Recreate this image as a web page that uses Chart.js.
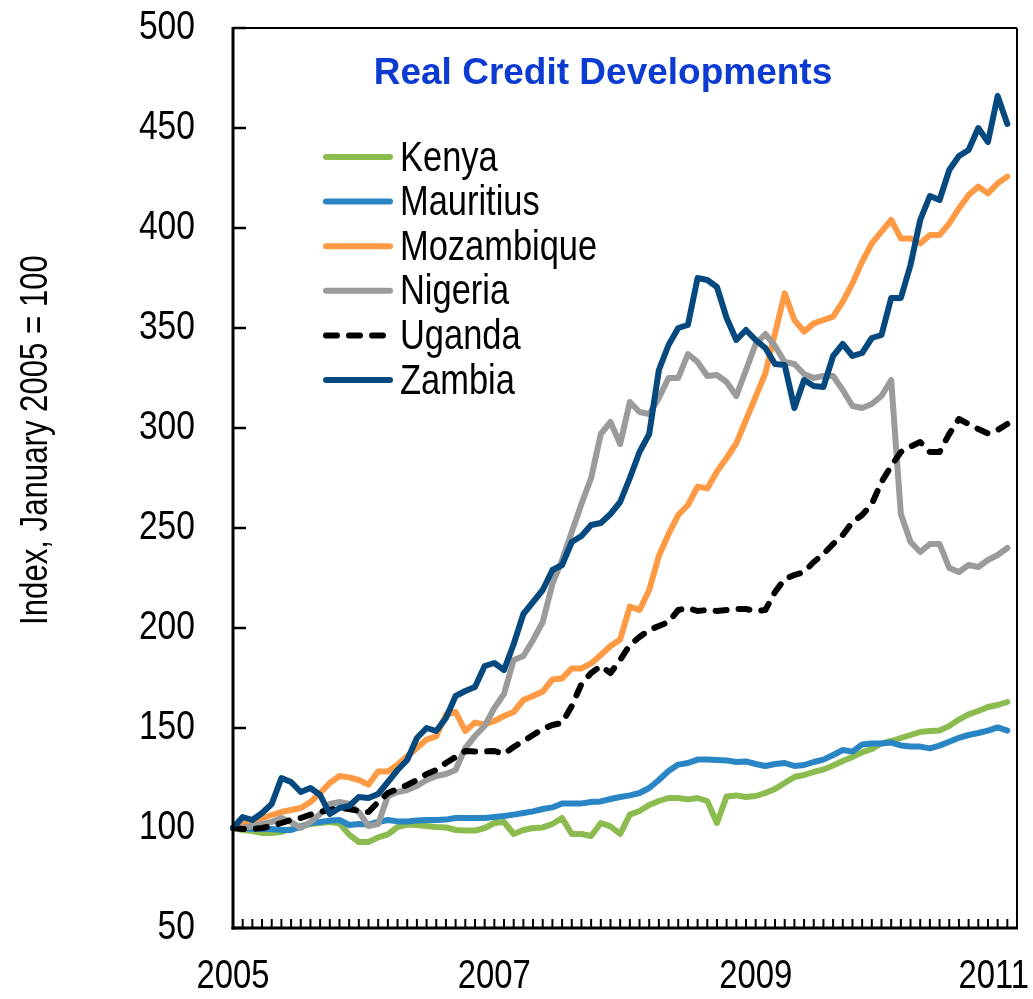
<!DOCTYPE html>
<html>
<head>
<meta charset="utf-8">
<script src="https://cdn.jsdelivr.net/npm/chart.js@4.4.0/dist/chart.umd.min.js"></script>
<style>
  html, body { margin: 0; padding: 0; background: #fff; }
  #chart { display: block; }
</style>
</head>
<body>
<canvas id="chart" width="1033" height="999"></canvas>
<script>
// ---------- DATA (monthly, Jan 2005 onward) ----------
const seriesNames = ["Kenya", "Mauritius", "Mozambique", "Nigeria", "Uganda", "Zambia"];
const seriesColors = ["#8cbb4f", "#2a85c4", "#fe9a43", "#9b9b9b", "#000000", "#05497f"];

const kenya = [100, 99, 98.5, 97.5, 97.5, 98, 99.5, 101, 102, 102.5,
  103, 102.3, 96.7, 93, 93, 95.3, 96.8, 100.5, 101.7, 101.5,
  101, 100.5, 100.3, 99, 98.7, 98.7, 100, 102.5, 103, 97,
  99, 100, 100.3, 102, 105, 97, 97, 96, 102.5, 100.8,
  97, 106.7, 108.5, 111.5, 113.5, 115, 115, 114.3, 115, 113.5,
  102.5, 115.8, 116.3, 115.5, 116, 117.5, 119.5, 122.5, 125.5, 126.5,
  128, 129.3, 131.3, 133.5, 135.5, 137.8, 139.5, 142.3, 143.5, 145,
  146.5, 148, 148.5, 148.8, 151, 154.2, 156.8, 158.5, 160.5, 161.5, 163];

const mauritius = [100, 100, 99.5, 99.5, 99.5, 99, 99, 100.5, 102.5, 103,
  103.7, 104, 101.5, 102, 101.7, 103, 104, 103.3, 103.3, 103.7,
  104, 104, 104.2, 105, 105, 105, 105, 105.5, 106, 106.7,
  107.5, 108.3, 109.5, 110.3, 112.3, 112.2, 112.3, 113, 113.3, 114.5,
  115.5, 116.3, 117.5, 120, 124, 128.5, 131.7, 132.5, 134.2, 134.2,
  134, 133.8, 133, 133.3, 132, 131, 132, 132.5, 131, 131.5,
  133, 134.2, 136.5, 139, 138.2, 141.8, 142.3, 142.3, 142.7, 141.3,
  140.7, 140.7, 139.8, 141.2, 143.1, 145.1, 146.5, 147.5, 148.7, 150.3, 148.7];

const mozambique = [100, 102, 104, 105, 106.5, 108, 109, 110, 113, 117.5,
  122.5, 126, 125.3, 124, 121.7, 128.3, 128.3, 131.7, 135.8, 140,
  144.2, 145.8, 156.7, 158, 148.5, 152.7, 151.8, 153.5, 156, 158,
  164, 166, 168.2, 174.3, 174.8, 179.8, 179.8, 182.3, 186.5, 191,
  194.3, 210.7, 209, 219, 236, 247, 256.5, 261.5, 270.7, 269.8,
  278.2, 285, 292.3, 304, 315.7, 327.3, 347.3, 367.3, 354, 348.2,
  352.3, 354, 355.7, 363.2, 372.3, 383.2, 392.3, 398.2, 404, 394.8,
  394.8, 392.3, 396.5, 396.5, 402.3, 409.8, 416.5, 420.7, 417.3, 422.3, 425.7];

const nigeria = [100, 100, 101, 102, 103, 105, 103, 100, 103, 107,
  112, 113, 112, 108, 101, 102, 116, 118, 119, 121,
  124, 126, 127, 129, 140, 146, 151, 160, 167, 184,
  186, 194, 203, 222, 234, 248, 262, 275, 297, 303,
  292, 313, 308, 307, 315, 325, 325, 337, 333, 326,
  326.5, 323, 316, 329, 342, 347, 341, 333, 332, 327,
  325, 326, 326, 319, 311, 310, 312, 316, 324, 257,
  243, 238, 242, 242, 230, 228, 231.5, 230.5, 234, 236.5, 240];

const uganda = [100, 99.5, 99.5, 100, 101, 102.5, 104, 105, 106.7, 108,
  109, 110, 109.5, 108.5, 108, 113, 117.5, 119.5, 121.5, 124,
  127, 129, 132.5, 135.5, 138.5, 138.3, 138.3, 138.5, 137, 140.5,
  143.5, 146.5, 149.5, 151.5, 152.5, 161, 172, 177.5, 181, 177.5,
  184, 191.5, 195.5, 199, 201, 203, 209, 210, 208.5, 209,
  208.5, 209, 209.5, 209.5, 208.5, 209, 218, 224.5, 226.5, 228,
  233, 237, 242, 246.5, 253, 256.5, 262, 273, 281, 288,
  290.7, 293, 288, 288, 297, 304.5, 302, 299.5, 297.3, 299, 302];

const zambia = [100, 105.5, 104, 107.5, 112, 125, 123, 118, 120, 116.5,
  107, 110, 111, 115.5, 115, 117, 123, 129, 134, 145,
  150, 148.5, 155, 166, 168.5, 170.5, 181, 182.5, 179, 192,
  207, 213, 219, 229, 231.5, 243, 246, 251.5, 252.5, 257,
  263, 275, 288, 297, 329, 341.5, 350, 351.5, 375, 374,
  370.5, 355, 344, 349, 344, 340, 332, 331.5, 310, 324,
  321, 320.5, 336, 342, 336, 337.5, 345, 346.5, 365, 365,
  381.5, 404, 416, 414, 429, 436, 439, 450, 443, 466, 452];

const seriesData = [kenya, mauritius, mozambique, nigeria, uganda, zambia];

// x axis: one slot per month, Jan 2005 .. Oct 2011, labels every 27 slots
const monthNames = ["Jan", "Feb", "Mar", "Apr", "May", "Jun", "Jul", "Aug", "Sep", "Oct", "Nov", "Dec"];
const categories = [];
for (let i = 0; i < 82; i++) {
  categories.push(monthNames[i % 12] + " " + (2005 + Math.floor(i / 12)));
}
const yearLabels = ["2005", "2007", "2009", "2011"];
const yearLabelSlots = [0, 27, 54, 81];
const yTicks = [50, 100, 150, 200, 250, 300, 350, 400, 450, 500];

const chartTitle = "Real Credit Developments";
const yTitle = "Index, January 2005 = 100";

// ---------- FONTS ----------
// no narrow face installed: squeeze Liberation Sans horizontally instead
const baseFont = "'Liberation Sans', Arial, sans-serif";
const squeeze = 0.82;
Chart.defaults.font.family = baseFont;
Chart.defaults.color = "#000";

function narrowText(ctx, text, x, y, size, align, rotate) {
  ctx.save();
  ctx.font = size + "px " + baseFont;
  ctx.textAlign = align;
  ctx.textBaseline = "middle";
  ctx.translate(x, y);
  if (rotate) ctx.rotate(rotate);
  ctx.scale(squeeze, 1);
  ctx.fillText(text, 0, 0);
  ctx.restore();
}

function line(ctx, x1, y1, x2, y2) {
  ctx.beginPath();
  ctx.moveTo(x1, y1);
  ctx.lineTo(x2, y2);
  ctx.stroke();
}

// ---------- DECORATION PLUGIN ----------
const decoPlugin = {
  id: "deco",
  afterDatasetsDraw(chart) {
    const { ctx, chartArea: a, scales } = chart;
    ctx.save();
    ctx.strokeStyle = "#000";
    ctx.lineCap = "butt";

    // y ticks pointing inward
    ctx.lineWidth = 2.5;
    yTicks.forEach((v) => {
      const y = scales.y.getPixelForValue(v);
      line(ctx, a.left, y, a.left + 13, y);
    });

    // monthly ticks along the bottom, pointing up
    ctx.lineWidth = 2;
    for (let i = 0; i < categories.length; i++) {
      const x = scales.x.getPixelForValue(i);
      line(ctx, x, a.bottom, x, a.bottom - 9);
    }

    // frame
    ctx.lineWidth = 2;
    line(ctx, a.left, a.top, a.right, a.top);
    line(ctx, a.right, a.top, a.right, a.bottom);
    ctx.lineWidth = 3;
    line(ctx, a.left, a.top - 1, a.left, a.bottom + 1.5);
    line(ctx, a.left - 1.5, a.bottom, a.right + 1, a.bottom);
    ctx.restore();
  },
  afterDraw(chart) {
    const { ctx, scales } = chart;
    ctx.save();
    ctx.fillStyle = "#000";

    // y tick labels
    yTicks.forEach((v) => {
      narrowText(ctx, String(v), 195, scales.y.getPixelForValue(v), 41, "right");
    });

    // x year labels (last one kept inside the canvas)
    ctx.font = "40px " + baseFont;
    yearLabels.forEach((t, k) => {
      const w = ctx.measureText(t).width * squeeze;
      let x = scales.x.getPixelForValue(yearLabelSlots[k]);
      x = Math.min(x, 1029 - w / 2);
      narrowText(ctx, t, x, 977, 40, "center");
    });

    // y axis title
    narrowText(ctx, yTitle, 37, 440, 38, "center", -Math.PI / 2);

    // title
    ctx.fillStyle = "#0b3bd0";
    ctx.font = "bold 37px " + baseFont;
    ctx.textAlign = "center";
    ctx.textBaseline = "middle";
    ctx.fillText(chartTitle, 603, 74);

    // legend inside the plot
    chart.data.datasets.forEach((ds, k) => {
      const y = 157 + k * 44.6;
      ctx.strokeStyle = ds.borderColor;
      ctx.lineWidth = 6;
      ctx.lineCap = "round";
      ctx.setLineDash(ds.borderDash);
      line(ctx, 326, y, 390, y);
      ctx.setLineDash([]);
      ctx.fillStyle = "#000";
      narrowText(ctx, ds.label, 400, y + 2, 42, "left");
    });
    ctx.restore();
  },
};

// ---------- CHART ----------
const datasets = seriesNames.map((name, k) => ({
  label: name,
  data: seriesData[k],
  borderColor: seriesColors[k],
  backgroundColor: seriesColors[k],
  borderWidth: 6,
  borderDash: name === "Uganda" ? [11, 12] : [],
  borderJoinStyle: "round",
  borderCapStyle: "round",
  pointRadius: 0,
  tension: 0,
  fill: false,
  order: seriesNames.length - k,
}));

const chart = new Chart(document.getElementById("chart"), {
  type: "line",
  data: { labels: categories, datasets: datasets },
  options: {
    responsive: false,
    animation: false,
    devicePixelRatio: 1,
    layout: { padding: { top: 28, right: 16, bottom: 0, left: 0 } },
    plugins: { legend: { display: false }, tooltip: { enabled: false }, title: { display: false } },
    scales: {
      x: {
        type: "category",
        offset: false,
        grid: { display: false },
        border: { display: false },
        ticks: { display: false },
        afterFit(s) {
          s.height = 71;
          s.paddingLeft = 0;
          s.paddingRight = 0;
        },
      },
      y: {
        min: 50,
        max: 500,
        grid: { display: false, drawTicks: false },
        border: { display: false },
        ticks: { display: false, stepSize: 50 },
        afterFit(s) {
          s.width = 233;
          s.paddingTop = 0;
          s.paddingBottom = 0;
        },
      },
    },
  },
  plugins: [decoPlugin],
});
</script>
</body>
</html>
